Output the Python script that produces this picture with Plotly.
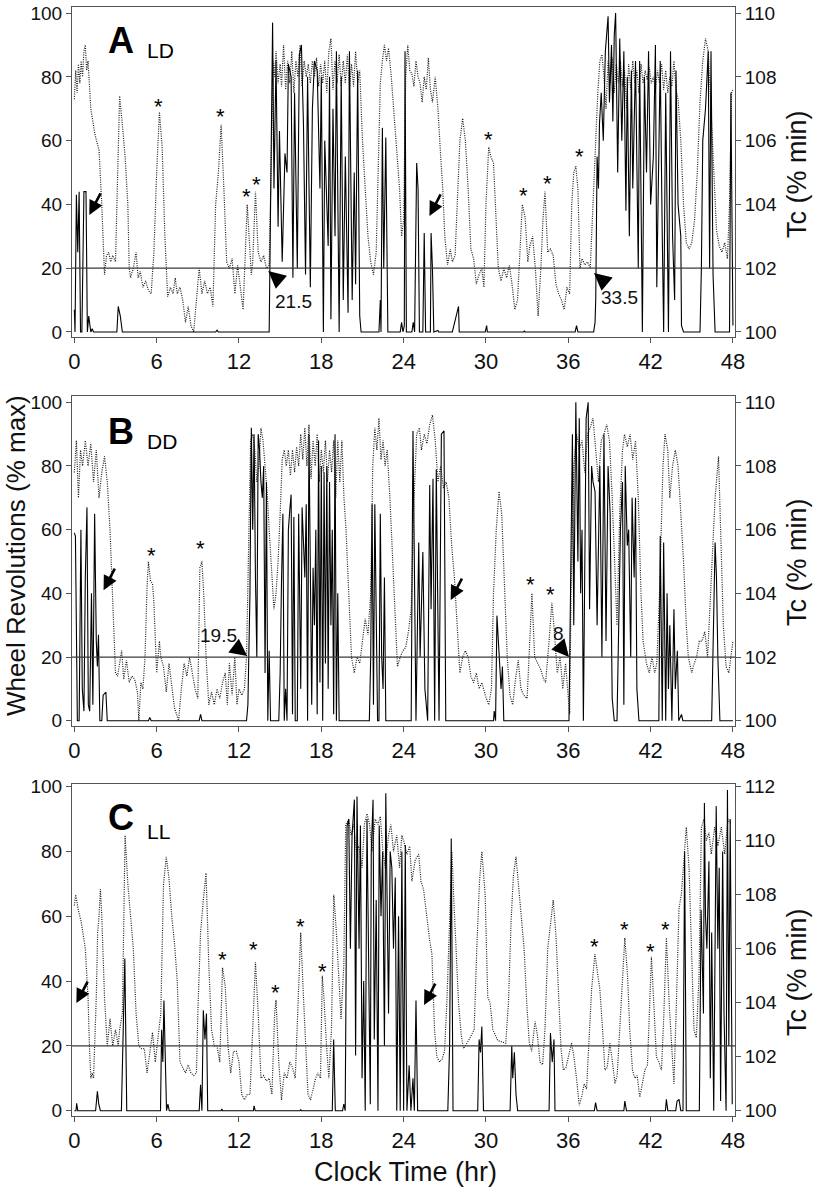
import plotly.graph_objects as go

# ---------------- DATA (hours, value) ----------------
# Panel A (LD) wheel revolutions, % of max
A_WHEEL = [
    (0.0, 7), (0.05, 0), (0.15, 43), (0.25, 25), (0.35, 44), (0.45, 0), (0.55, 0), (0.7, 44), (0.85, 44),
    (0.95, 0), (1.05, 5), (1.2, 0), (1.3, 1), (1.4, 0), (3.1, 0), (3.2, 8), (3.35, 5), (3.5, 0),
    (10.3, 0), (10.4, 0.6), (10.5, 0), (14.2, 0), (14.45, 97), (14.55, 45), (14.7, 85), (14.85, 33),
    (14.95, 63), (15.15, 22), (15.35, 56), (15.5, 50), (15.6, 84), (15.8, 80), (15.93, 17), (16.05, 75),
    (16.25, 20), (16.4, 87), (16.55, 90), (16.7, 65), (16.85, 18), (17.0, 80), (17.2, 14), (17.35, 70),
    (17.5, 85), (17.7, 82), (17.9, 45), (18.0, 80), (18.15, 0), (18.25, 60), (18.5, 27), (18.6, 80),
    (18.7, 4), (18.85, 70), (19.0, 30), (19.1, 88), (19.3, 0), (19.45, 80), (19.6, 10), (19.75, 55),
    (19.95, 6), (20.05, 88), (20.25, 10), (20.4, 50), (20.5, 15), (20.65, 82), (20.8, 5), (20.9, 0),
    (22.2, 0), (22.3, 10), (22.35, 0), (22.45, 64), (22.55, 20), (22.7, 61), (22.85, 0), (23.75, 0),
    (23.85, 3), (23.95, 0), (24.05, 2), (24.1, 88), (24.2, 0), (24.6, 0), (24.7, 3), (24.8, 0),
    (24.95, 53), (25.05, 45), (25.15, 0), (25.4, 0), (25.5, 31), (25.6, 0), (25.95, 0), (26.0, 31),
    (26.1, 20), (26.2, 0), (26.5, 0.5), (26.55, 0), (27.55, 0), (27.7, 3), (27.9, 6), (28.0, 8),
    (28.05, 0), (29.95, 0), (30.05, 2), (30.1, 0), (32.75, 0), (32.8, 0.4), (32.85, 0), (36.5, 0),
    (36.6, 2), (36.7, 0), (37.85, 0), (37.95, 3), (38.0, 10), (38.1, 55), (38.2, 45), (38.27, 65),
    (38.4, 75), (38.55, 60), (38.7, 88), (38.9, 99), (39.0, 72), (39.15, 90), (39.25, 66), (39.35, 93),
    (39.45, 100), (39.6, 50), (39.75, 92), (39.9, 60), (40.05, 88), (40.2, 38), (40.3, 80), (40.45, 30),
    (40.6, 82), (40.7, 45), (40.9, 85), (41.1, 20), (41.2, 85), (41.4, 0), (41.55, 80), (41.7, 50),
    (41.85, 88), (42.0, 40), (42.2, 55), (42.35, 90), (42.45, 14), (42.55, 50), (42.7, 85), (42.85, 30),
    (42.95, 0), (43.1, 75), (43.3, 0), (43.45, 88), (43.6, 30), (43.75, 10), (43.85, 82), (44.0, 40),
    (44.2, 30), (44.25, 2), (44.4, 0), (45.6, 0), (45.7, 20), (45.8, 60), (46.0, 70), (46.2, 88),
    (46.3, 20), (46.4, 88), (46.55, 18), (46.7, 0), (47.75, 0), (47.85, 75), (48.0, 2),
]

# Panel A (LD) core body temperature, Tc (% of min)
A_TC = [
    (0.0, 107.3), (0.1, 108.2), (0.2, 107.5), (0.3, 108.4), (0.4, 107.8), (0.5, 108.5), (0.6, 108.0),
    (0.7, 108.8), (0.8, 109.0), (0.9, 108.2), (1.0, 108.5), (1.2, 107.0), (1.5, 106.2), (1.8, 105.7),
    (2.0, 104.0), (2.1, 102.5), (2.2, 101.8), (2.35, 102.4), (2.5, 102.5), (2.65, 102.2), (2.8, 102.4),
    (3.0, 102.2), (3.15, 104.5), (3.3, 107.4), (3.5, 106.5), (3.7, 105.5), (3.9, 104.0), (4.0, 102.0),
    (4.1, 101.7), (4.3, 102.0), (4.5, 102.5), (4.65, 101.7), (4.8, 101.9), (5.0, 101.4), (5.2, 101.6),
    (5.4, 101.3), (5.6, 101.2), (5.8, 102.5), (6.0, 105.0), (6.2, 106.9), (6.4, 105.8), (6.6, 103.0),
    (6.8, 101.1), (7.0, 101.4), (7.2, 101.2), (7.35, 101.7), (7.5, 101.2), (7.7, 101.4), (7.9, 101.0),
    (8.1, 100.3), (8.3, 100.8), (8.5, 100.2), (8.7, 100.0), (8.9, 101.0), (9.1, 102.0), (9.3, 101.2),
    (9.5, 101.6), (9.7, 101.2), (9.9, 101.4), (10.1, 100.8), (10.3, 104.0), (10.5, 105.0), (10.7, 106.5),
    (10.9, 104.5), (11.1, 102.2), (11.3, 102.0), (11.5, 102.3), (11.7, 101.2), (11.9, 102.1),
    (12.1, 101.4), (12.3, 100.7), (12.6, 104.0), (12.9, 101.8), (13.0, 102.2), (13.2, 104.4),
    (13.4, 102.5), (13.6, 102.2), (13.8, 102.4), (14.0, 102.0), (14.2, 102.1), (14.35, 105.0),
    (14.5, 108.5), (14.6, 108.0), (14.7, 108.8), (14.85, 107.8), (15.0, 108.4), (15.1, 107.7),
    (15.25, 109.0), (15.4, 107.6), (15.55, 108.5), (15.7, 107.8), (15.85, 108.8), (16.0, 107.5),
    (16.15, 108.5), (16.3, 108.0), (16.45, 109.0), (16.6, 107.7), (16.75, 108.5), (16.9, 108.0),
    (17.05, 108.4), (17.2, 107.8), (17.35, 108.5), (17.5, 108.0), (17.65, 108.6), (17.8, 107.7),
    (17.95, 108.4), (18.1, 107.8), (18.25, 108.5), (18.4, 107.5), (18.55, 108.8), (18.7, 109.2),
    (18.85, 107.6), (19.0, 108.5), (19.15, 107.8), (19.3, 108.7), (19.45, 107.7), (19.6, 108.5),
    (19.75, 107.8), (19.9, 108.7), (20.05, 107.6), (20.2, 108.4), (20.35, 107.7), (20.5, 108.8),
    (20.65, 107.8), (20.8, 108.2), (21.0, 106.0), (21.2, 104.5), (21.4, 103.0), (21.6, 102.2),
    (21.8, 101.8), (22.0, 102.5), (22.15, 105.0), (22.3, 107.8), (22.45, 108.5), (22.6, 109.0),
    (22.75, 108.5), (22.9, 108.9), (23.1, 108.0), (23.3, 106.8), (23.5, 105.5), (23.7, 104.5),
    (23.85, 103.0), (24.0, 103.5), (24.15, 108.0), (24.3, 109.0), (24.45, 108.2), (24.6, 108.1),
    (24.75, 107.7), (24.9, 108.5), (25.05, 108.0), (25.2, 107.8), (25.35, 107.2), (25.5, 108.0),
    (25.65, 107.6), (25.8, 108.6), (25.95, 107.6), (26.1, 107.2), (26.3, 108.0), (26.5, 107.0),
    (26.7, 105.5), (26.85, 104.5), (27.0, 103.0), (27.2, 102.1), (27.4, 102.6), (27.55, 102.2),
    (27.75, 102.4), (27.9, 104.0), (28.1, 106.0), (28.3, 106.7), (28.5, 106.0), (28.7, 104.5),
    (28.9, 102.6), (29.1, 102.3), (29.3, 101.5), (29.5, 101.8), (29.7, 102.0), (29.85, 101.4),
    (30.0, 104.0), (30.2, 105.8), (30.35, 105.5), (30.55, 105.3), (30.75, 103.5), (30.9, 102.0),
    (31.1, 101.6), (31.3, 102.0), (31.5, 101.7), (31.7, 102.1), (31.9, 101.5), (32.1, 100.7),
    (32.3, 101.0), (32.5, 102.5), (32.65, 104.0), (32.85, 103.6), (33.05, 102.2), (33.2, 102.7),
    (33.4, 103.0), (33.6, 102.0), (33.8, 100.5), (34.0, 102.0), (34.15, 103.5), (34.3, 104.4),
    (34.5, 102.5), (34.7, 102.6), (34.9, 102.4), (35.1, 101.5), (35.3, 101.2), (35.5, 101.0),
    (35.7, 100.7), (35.9, 101.4), (36.1, 101.2), (36.25, 104.0), (36.4, 105.0), (36.55, 105.2),
    (36.7, 104.5), (36.85, 102.0), (37.0, 102.3), (37.2, 102.1), (37.4, 102.2), (37.6, 102.0),
    (37.8, 104.0), (38.0, 106.2), (38.15, 107.5), (38.3, 108.5), (38.45, 108.7), (38.6, 108.0),
    (38.75, 107.0), (38.9, 108.5), (39.05, 107.8), (39.2, 108.6), (39.35, 107.5), (39.5, 108.4),
    (39.65, 107.8), (39.8, 108.5), (39.95, 107.7), (40.1, 108.2), (40.25, 107.0), (40.4, 108.4),
    (40.55, 107.6), (40.7, 108.5), (40.85, 107.8), (41.0, 108.2), (41.15, 107.5), (41.3, 108.4),
    (41.45, 107.8), (41.6, 108.2), (41.75, 107.9), (41.9, 108.3), (42.05, 107.8), (42.2, 108.0),
    (42.35, 107.6), (42.5, 108.2), (42.65, 107.8), (42.8, 108.4), (42.95, 107.6), (43.1, 108.2),
    (43.25, 107.5), (43.4, 108.0), (43.55, 107.7), (43.7, 108.5), (43.85, 107.6), (44.0, 107.3),
    (44.2, 106.0), (44.4, 104.0), (44.6, 102.8), (44.8, 102.6), (45.0, 102.8), (45.2, 103.5),
    (45.4, 105.0), (45.6, 107.2), (45.8, 108.5), (46.0, 109.2), (46.2, 108.8), (46.4, 107.0),
    (46.6, 105.0), (46.8, 103.2), (47.0, 102.7), (47.2, 102.5), (47.4, 102.8), (47.6, 102.3),
    (47.75, 104.0), (47.9, 107.5), (48.0, 107.6),
]

# Panel B (DD) wheel revolutions, % of max
B_WHEEL = [
    (0.0, 59), (0.08, 58), (0.22, 0), (0.35, 0), (0.48, 60), (0.58, 10), (0.7, 3), (0.8, 45), (0.92, 67),
    (1.02, 5), (1.12, 3), (1.25, 40), (1.35, 5), (1.48, 65), (1.6, 25), (1.68, 17), (1.76, 27),
    (1.86, 0), (2.0, 0), (2.1, 8), (2.3, 9), (2.4, 0), (5.4, 0), (5.5, 1), (5.6, 0), (9.1, 0),
    (9.2, 2), (9.3, 0), (12.55, 0), (12.65, 5), (12.8, 40), (12.9, 92), (13.0, 60), (13.1, 90),
    (13.2, 45), (13.3, 20), (13.4, 90), (13.5, 85), (13.6, 75), (13.7, 70), (13.8, 80), (13.9, 15),
    (14.0, 75), (14.1, 0), (14.2, 22), (14.3, 0), (14.9, 0), (15.0, 15), (15.1, 44), (15.2, 65),
    (15.3, 0), (15.4, 10), (15.5, 0), (15.6, 60), (15.7, 66), (15.8, 71), (15.9, 2), (16.0, 64),
    (16.1, 0), (16.25, 0), (16.35, 65), (16.5, 10), (16.6, 67), (16.7, 57), (16.8, 45), (16.9, 68),
    (17.0, 0), (17.1, 90), (17.2, 45), (17.3, 5), (17.4, 48), (17.5, 30), (17.6, 60), (17.7, 2),
    (17.8, 88), (17.9, 12), (18.0, 80), (18.1, 0), (18.2, 78), (18.3, 18), (18.4, 80), (18.5, 10),
    (18.6, 75), (18.7, 30), (18.8, 60), (18.9, 2), (19.0, 90), (19.1, 0), (19.2, 40), (19.3, 0),
    (21.5, 0), (21.6, 20), (21.7, 68), (21.8, 5), (21.9, 68), (22.0, 30), (22.1, 0), (22.2, 0),
    (22.3, 65), (22.4, 20), (22.5, 10), (22.6, 45), (22.7, 0), (24.55, 0), (24.68, 91), (24.9, 0),
    (25.1, 56), (25.2, 20), (25.4, 53), (25.55, 10), (25.75, 0), (25.9, 74), (26.0, 35), (26.14, 76),
    (26.26, 0), (26.38, 79), (26.58, 0), (26.75, 90), (26.94, 91), (27.07, 0), (30.55, 0), (30.6, 3),
    (30.7, 0), (30.8, 33), (30.95, 20), (31.1, 10), (31.2, 17), (31.3, 0), (36.05, 0), (36.2, 50),
    (36.3, 90), (36.4, 30), (36.55, 100), (36.7, 50), (36.8, 95), (36.9, 40), (37.0, 60), (37.1, 0),
    (37.3, 95), (37.45, 100), (37.55, 35), (37.7, 80), (37.8, 75), (37.95, 72), (38.1, 30), (38.3, 80),
    (38.45, 20), (38.6, 90), (38.75, 25), (38.9, 80), (39.05, 65), (39.2, 7), (39.35, 0), (39.55, 0),
    (39.7, 40), (39.8, 60), (39.95, 75), (40.05, 5), (40.15, 80), (40.3, 55), (40.4, 60), (40.55, 20),
    (40.65, 70), (40.8, 45), (40.9, 70), (41.0, 10), (41.15, 0), (42.6, 0), (42.7, 58), (42.85, 0),
    (42.95, 56), (43.1, 0), (43.2, 40), (43.3, 10), (43.4, 30), (43.55, 0), (43.7, 35), (43.8, 10),
    (43.95, 22), (44.05, 0), (44.25, 2), (44.35, 0), (46.45, 0), (46.55, 20), (46.7, 56), (46.8, 45),
    (46.9, 20), (47.05, 0), (48.0, 0),
]

# Panel B (DD) Tc (% of min)
B_TC = [
    (0.0, 107.8), (0.15, 108.8), (0.3, 107.0), (0.45, 108.5), (0.6, 108.0), (0.8, 108.8), (1.0, 108.0),
    (1.2, 108.7), (1.4, 107.5), (1.6, 108.5), (1.8, 107.0), (2.0, 107.8), (2.2, 108.3), (2.4, 107.5),
    (2.6, 106.0), (2.8, 104.0), (2.9, 102.5), (3.0, 101.5), (3.15, 101.4), (3.3, 101.8), (3.45, 102.2),
    (3.6, 101.3), (3.8, 101.9), (4.0, 101.2), (4.2, 101.4), (4.4, 101.3), (4.6, 100.9), (4.7, 100.0),
    (4.85, 101.2), (5.0, 101.0), (5.15, 102.0), (5.3, 104.2), (5.4, 105.0), (5.55, 104.4), (5.7, 104.3),
    (5.8, 103.7), (6.0, 101.5), (6.2, 102.5), (6.3, 102.0), (6.5, 101.7), (6.7, 100.9), (6.9, 101.8),
    (7.1, 101.0), (7.3, 100.4), (7.45, 100.2), (7.6, 100.0), (7.8, 101.0), (8.0, 101.8), (8.2, 101.4),
    (8.4, 102.0), (8.6, 101.5), (8.8, 101.0), (9.0, 100.7), (9.15, 104.8), (9.3, 105.0), (9.45, 103.8),
    (9.6, 102.0), (9.8, 100.5), (10.0, 100.9), (10.2, 100.5), (10.4, 101.0), (10.6, 100.7),
    (10.8, 101.2), (11.0, 101.5), (11.15, 100.5), (11.3, 101.8), (11.5, 100.8), (11.7, 102.0),
    (11.85, 100.5), (12.0, 101.0), (12.2, 100.8), (12.4, 101.0), (12.55, 102.0), (12.7, 106.0),
    (12.85, 108.8), (13.0, 109.0), (13.15, 108.5), (13.3, 107.5), (13.45, 108.0), (13.6, 109.2),
    (13.75, 108.8), (13.9, 108.0), (14.05, 107.2), (14.2, 106.0), (14.4, 104.5), (14.55, 103.5),
    (14.7, 104.0), (14.85, 105.0), (15.0, 106.5), (15.15, 108.2), (15.3, 108.5), (15.45, 108.0),
    (15.6, 108.5), (15.75, 107.7), (15.9, 108.5), (16.05, 107.8), (16.2, 108.6), (16.35, 108.0),
    (16.5, 109.0), (16.65, 108.2), (16.8, 109.2), (16.95, 108.0), (17.1, 109.3), (17.25, 107.6),
    (17.4, 108.8), (17.55, 108.0), (17.7, 109.0), (17.85, 107.5), (18.0, 108.5), (18.15, 107.8),
    (18.3, 108.8), (18.45, 107.5), (18.6, 108.5), (18.75, 107.8), (18.9, 108.8), (19.05, 107.0),
    (19.2, 108.8), (19.35, 107.5), (19.5, 108.8), (19.65, 107.0), (19.8, 106.0), (20.0, 104.0),
    (20.2, 102.0), (20.4, 101.5), (20.6, 102.0), (20.8, 101.8), (21.0, 102.5), (21.2, 103.2),
    (21.4, 102.7), (21.6, 104.0), (21.75, 108.0), (21.9, 109.2), (22.05, 108.5), (22.2, 109.5),
    (22.35, 108.2), (22.5, 108.8), (22.65, 108.0), (22.8, 108.5), (23.0, 107.0), (23.2, 105.0),
    (23.4, 103.0), (23.55, 101.7), (23.75, 102.0), (23.95, 102.2), (24.15, 102.3), (24.35, 102.8),
    (24.55, 103.5), (24.75, 106.9), (24.95, 109.0), (25.15, 109.2), (25.3, 108.5), (25.5, 109.0),
    (25.7, 108.7), (25.9, 109.3), (26.1, 109.6), (26.3, 108.8), (26.5, 107.5), (26.7, 108.0),
    (26.9, 107.3), (27.1, 107.5), (27.3, 107.0), (27.5, 105.5), (27.7, 104.5), (27.9, 102.8),
    (28.1, 101.5), (28.3, 102.0), (28.5, 102.2), (28.7, 102.0), (28.9, 101.4), (29.1, 101.2),
    (29.3, 101.5), (29.5, 101.0), (29.7, 101.2), (29.95, 100.8), (30.2, 100.5), (30.4, 101.0),
    (30.55, 104.0), (30.75, 106.0), (30.95, 107.2), (31.15, 106.5), (31.35, 104.5), (31.55, 102.0),
    (31.75, 100.8), (31.95, 100.5), (32.15, 101.3), (32.35, 101.9), (32.55, 101.0), (32.75, 100.8),
    (33.0, 100.7), (33.15, 102.2), (33.35, 104.0), (33.55, 102.0), (33.75, 101.8), (34.0, 101.6),
    (34.2, 101.3), (34.35, 101.2), (34.6, 102.5), (34.8, 103.7), (34.95, 103.0), (35.2, 101.5),
    (35.4, 102.0), (35.6, 101.0), (35.8, 101.8), (36.0, 100.5), (36.1, 100.2), (36.2, 104.0),
    (36.4, 108.0), (36.6, 109.0), (36.8, 108.5), (37.0, 108.8), (37.2, 107.8), (37.4, 109.0),
    (37.6, 109.2), (37.8, 109.5), (38.0, 108.5), (38.2, 107.5), (38.4, 108.8), (38.6, 109.0),
    (38.8, 109.3), (39.0, 108.8), (39.2, 107.0), (39.4, 104.5), (39.55, 103.0), (39.75, 106.5),
    (39.95, 108.5), (40.1, 109.0), (40.3, 108.6), (40.5, 109.0), (40.7, 108.2), (40.9, 108.8),
    (41.1, 107.0), (41.3, 104.0), (41.45, 102.5), (41.7, 101.8), (41.9, 101.5), (42.1, 102.0),
    (42.3, 101.5), (42.45, 101.8), (42.65, 104.0), (42.9, 108.0), (43.05, 109.0), (43.25, 108.5),
    (43.4, 107.0), (43.6, 108.0), (43.8, 108.5), (44.0, 108.0), (44.15, 107.0), (44.4, 105.0),
    (44.6, 103.0), (44.75, 102.0), (45.0, 101.5), (45.1, 101.7), (45.35, 102.0), (45.55, 102.5),
    (45.75, 102.5), (45.95, 102.8), (46.15, 102.0), (46.35, 104.0), (46.55, 106.0), (46.7, 107.0),
    (46.95, 108.3), (47.1, 106.0), (47.3, 103.0), (47.5, 101.7), (47.7, 101.5), (48.0, 102.5),
]

# Panel C (LL) wheel revolutions, % of max
C_WHEEL = [
    (0.0, 0), (0.12, 0), (0.17, 2.3), (0.25, 0), (1.55, 0), (1.68, 6), (1.78, 2), (1.9, 0), (3.43, 0),
    (3.55, 20), (3.68, 47), (3.82, 0), (6.28, 0), (6.36, 25), (6.45, 15), (6.53, 34), (6.62, 12),
    (6.72, 0), (6.82, 2), (6.92, 0), (9.1, 0), (9.2, 8), (9.3, 0), (9.4, 31), (9.52, 22), (9.63, 30),
    (9.72, 0), (10.7, 0), (10.75, 0.5), (10.8, 0), (13.05, 0), (13.1, 1.5), (13.18, 0), (16.45, 0),
    (16.5, 0.4), (16.55, 0), (18.8, 0), (18.9, 22), (19.02, 0), (19.55, 0), (19.64, 2), (19.74, 0),
    (19.88, 88), (20.0, 90), (20.12, 50), (20.24, 85), (20.41, 96), (20.5, 17), (20.6, 97), (20.75, 50),
    (20.85, 88), (20.97, 10), (21.09, 40), (21.2, 0), (21.33, 90), (21.45, 35), (21.57, 2), (21.64, 80),
    (21.77, 96), (21.86, 22), (22.0, 65), (22.13, 0), (22.22, 88), (22.35, 60), (22.47, 80), (22.6, 20),
    (22.7, 98), (22.78, 70), (22.9, 30), (23.02, 80), (23.14, 75), (23.26, 50), (23.39, 72), (23.5, 0),
    (23.63, 60), (23.75, 0), (23.87, 80), (24.0, 0), (24.12, 82), (24.24, 0), (24.4, 14), (24.53, 0),
    (24.68, 10), (24.78, 0), (24.9, 34), (25.02, 0), (27.22, 0), (27.35, 20), (27.47, 84), (27.6, 0),
    (29.4, 0), (29.5, 22), (29.6, 18), (29.7, 26), (29.82, 0), (31.76, 0), (31.88, 20), (31.95, 10),
    (32.07, 18), (32.19, 5), (32.31, 0), (34.6, 0), (34.7, 24), (34.83, 15), (34.96, 22), (35.03, 0),
    (37.9, 0), (37.99, 2.5), (38.1, 0), (40.05, 0), (40.12, 3), (40.24, 0), (43.08, 0), (43.15, 3.5),
    (43.25, 0), (43.83, 0), (43.93, 3), (44.07, 3.5), (44.2, 0), (44.36, 0), (44.48, 80), (44.6, 0),
    (45.55, 0), (45.68, 62), (45.85, 30), (45.92, 95), (46.0, 60), (46.1, 50), (46.25, 77), (46.35, 10),
    (46.45, 55), (46.6, 0), (46.7, 50), (46.78, 94), (46.9, 50), (47.0, 75), (47.1, 3), (47.25, 80),
    (47.35, 30), (47.5, 0), (47.6, 99), (47.7, 20), (47.8, 90), (47.95, 2),
]

# Panel C (LL) Tc (% of min)
C_TC = [
    (0.0, 107.6), (0.1, 108.0), (0.3, 107.4), (0.5, 107.0), (0.8, 106.0), (1.0, 104.2), (1.1, 102.4),
    (1.2, 101.2), (1.3, 101.4), (1.4, 101.2), (1.6, 104.2), (1.7, 106.6), (1.8, 107.2), (1.9, 108.2),
    (2.0, 107.2), (2.2, 104.2), (2.4, 102.4), (2.6, 103.4), (2.8, 102.4), (3.0, 103.0), (3.2, 102.4),
    (3.3, 103.0), (3.5, 103.6), (3.6, 107.2), (3.7, 110.2), (3.9, 108.4), (4.1, 107.2), (4.3, 106.0),
    (4.5, 103.6), (4.7, 102.4), (4.9, 102.3), (5.1, 102.3), (5.3, 101.4), (5.5, 102.2), (5.7, 102.9),
    (5.9, 101.8), (6.1, 102.6), (6.3, 103.6), (6.5, 108.4), (6.7, 109.4), (6.9, 108.6), (7.1, 107.2),
    (7.3, 106.2), (7.5, 104.8), (7.7, 101.8), (7.9, 101.6), (8.1, 101.4), (8.3, 101.7), (8.5, 101.4),
    (8.7, 101.3), (8.9, 101.4), (9.0, 103.6), (9.2, 106.6), (9.4, 107.8), (9.6, 108.8), (9.8, 105.4),
    (10.0, 103.0), (10.2, 102.4), (10.4, 102.4), (10.6, 101.8), (10.8, 105.3), (11.0, 104.6),
    (11.2, 102.4), (11.4, 101.4), (11.6, 102.2), (11.8, 102.2), (12.0, 101.8), (12.2, 100.6),
    (12.4, 100.4), (12.6, 100.6), (12.8, 100.6), (13.0, 103.0), (13.2, 105.5), (13.4, 103.6),
    (13.6, 101.2), (13.8, 101.3), (14.0, 101.1), (14.2, 101.2), (14.4, 100.6), (14.6, 103.6),
    (14.7, 104.1), (14.9, 101.8), (15.1, 100.4), (15.3, 101.4), (15.5, 101.2), (15.7, 101.8),
    (15.9, 101.6), (16.1, 101.2), (16.3, 103.6), (16.5, 106.6), (16.7, 104.2), (16.9, 101.8),
    (17.03, 100.6), (17.22, 100.4), (17.41, 100.8), (17.58, 101.2), (17.75, 101.4), (17.94, 101.2),
    (18.07, 105.0), (18.19, 104.2), (18.38, 102.4), (18.55, 101.2), (18.74, 103.0), (18.91, 108.0),
    (19.1, 106.6), (19.27, 104.8), (19.44, 103.4), (19.64, 105.4), (19.78, 110.6), (20.0, 110.8),
    (20.17, 110.2), (20.36, 110.6), (20.56, 109.6), (20.73, 109.8), (20.97, 109.0), (21.14, 110.6),
    (21.33, 111.0), (21.52, 110.6), (21.69, 109.6), (21.93, 110.8), (22.13, 110.6), (22.3, 110.9),
    (22.49, 109.6), (22.66, 109.0), (22.9, 110.2), (23.07, 110.6), (23.26, 109.6), (23.5, 110.2),
    (23.7, 109.0), (23.87, 110.2), (24.0, 110.0), (24.24, 109.5), (24.44, 109.8), (24.6, 108.5),
    (24.85, 109.3), (25.1, 109.5), (25.26, 108.5), (25.45, 108.2), (25.7, 107.0), (25.9, 106.3),
    (26.06, 105.8), (26.25, 103.0), (26.42, 102.0), (26.62, 101.8), (26.79, 101.9), (26.98, 102.2),
    (27.15, 104.0), (27.35, 107.0), (27.52, 109.6), (27.64, 108.0), (27.83, 106.0), (28.0, 104.0),
    (28.2, 102.8), (28.36, 102.3), (28.73, 102.6), (29.14, 103.0), (29.33, 106.0), (29.53, 108.5),
    (29.7, 109.6), (29.94, 108.0), (30.13, 104.2), (30.3, 104.0), (30.5, 103.0), (30.86, 102.6),
    (31.44, 102.5), (31.64, 104.0), (31.83, 107.0), (32.0, 108.7), (32.19, 109.4), (32.36, 108.5),
    (32.56, 107.2), (32.78, 106.0), (32.97, 104.0), (33.16, 102.5), (33.33, 102.2), (33.58, 103.3),
    (33.75, 102.8), (33.94, 101.8), (34.13, 101.7), (34.3, 103.0), (34.5, 106.0), (34.9, 107.8),
    (35.1, 106.5), (35.27, 104.5), (35.47, 102.3), (35.64, 101.5), (35.83, 101.6), (36.24, 102.5),
    (36.41, 102.0), (36.6, 101.2), (36.8, 100.2), (36.97, 100.5), (37.16, 101.0), (37.33, 100.8),
    (37.53, 103.0), (37.7, 104.5), (37.94, 105.8), (38.1, 105.2), (38.3, 104.5), (38.5, 103.0),
    (38.67, 101.5), (38.84, 101.6), (39.03, 102.5), (39.22, 101.8), (39.4, 101.0), (39.56, 101.3),
    (39.76, 103.0), (39.95, 105.0), (40.12, 106.4), (40.32, 105.0), (40.48, 103.0), (40.68, 101.5),
    (40.85, 101.2), (41.02, 101.3), (41.21, 100.5), (41.4, 101.0), (41.58, 101.5), (41.77, 101.7),
    (41.94, 104.0), (42.06, 105.7), (42.23, 104.0), (42.42, 102.0), (42.6, 101.8), (42.79, 101.5),
    (42.96, 103.5), (43.15, 106.4), (43.35, 104.0), (43.5, 102.5), (43.7, 101.0), (43.88, 104.0),
    (44.07, 107.5), (44.24, 108.0), (44.44, 109.5), (44.6, 110.5), (44.8, 109.0), (44.97, 106.0),
    (45.16, 103.0), (45.33, 102.7), (45.53, 105.0), (45.7, 110.5), (45.9, 110.8), (46.06, 110.0),
    (46.25, 110.3), (46.42, 109.5), (46.67, 110.5), (46.9, 109.8), (47.15, 110.5), (47.4, 109.5),
    (47.64, 110.8), (47.88, 110.6),
]

HOUR_TICKS = [0, 6, 12, 18, 24, 30, 36, 42, 48]
WHEEL_TICKS = [0, 20, 40, 60, 80, 100]
TC_TICKS_AB = [100, 102, 104, 106, 108, 110]
TC_TICKS_C = [100, 102, 104, 106, 108, 110, 112]
THRESHOLD = 20

# asterisks: (hour, wheel-scale height)
A_STARS = [(6.12, 70.8), (10.63, 67.7), (12.53, 42.6), (13.26, 46.4), (30.15, 60.2), (32.77, 42.9),
           (34.52, 46.7), (36.85, 54.9)]
B_STARS = [(5.61, 52.0), (9.18, 54.2), (33.21, 42.9), (34.67, 39.5)]
C_STARS = [(10.78, 46.8), (13.04, 49.6), (14.64, 36.6), (16.46, 57.0), (18.06, 43.1), (37.94, 50.8),
           (40.13, 55.8), (42.02, 49.0), (43.11, 55.8)]
# small arrows (head position)
A_ARROWS = [(1.09, 36.7), (25.88, 36.4)]
B_ARROWS = [(2.13, 41.0), (27.43, 37.9)]
C_ARROWS = [(0.15, 33.2), (25.49, 32.6)]
# onset markers: (tip hour, tip height, label, label hour, label height, tail dx, tail dy)
A_ONSETS = [(14.13, 19.1, "21.5", 15.95, 9.7, 13, 11), (37.87, 18.5, "33.5", 39.7, 10.7, 13, 11)]
B_ONSETS = [(12.6, 20.3, "19.5", 10.5, 26.9, -13, -10), (36.05, 20.0, "8", 35.25, 27.5, -11, -13)]
C_ONSETS = []

# ---------------- FIGURE ----------------
W, H = 819, 1190
X_LEFT, X_RIGHT = 72, 735
FONT = "Liberation Sans, Arial, sans-serif"
AXC = "#555555"

panels = [
    dict(letter="A", cond="LD", wheel=A_WHEEL, tc=A_TC, top=7, bottom=337, wr=(-1.57, 101.9),
         tcs=0.1, tct=TC_TICKS_AB, stars=A_STARS, arrows=A_ARROWS, onsets=A_ONSETS,
         lab_y=40.8, cond_y=50.8, tc_title_y=174),
    dict(letter="B", cond="DD", wheel=B_WHEEL, tc=B_TC, top=396, bottom=726, wr=(-1.66, 101.98),
         tcs=0.1, tct=TC_TICKS_AB, stars=B_STARS, arrows=B_ARROWS, onsets=B_ONSETS,
         lab_y=431, cond_y=441.5, tc_title_y=562),
    dict(letter="C", cond="LL", wheel=C_WHEEL, tc=C_TC, top=784, bottom=1116, wr=(-1.64, 100.83),
         tcs=0.12, tct=TC_TICKS_C, stars=C_STARS, arrows=C_ARROWS, onsets=C_ONSETS,
         lab_y=817, cond_y=831.5, tc_title_y=972),
]

fig = go.Figure()
layout = dict(width=W, height=H, margin=dict(l=0, r=0, t=0, b=0, pad=0, autoexpand=False),
              paper_bgcolor="white", plot_bgcolor="white", showlegend=False,
              font=dict(family=FONT, color="#111"))
annotations = []
shapes = []

def py(px):
    return 1 - px / H

for i, p in enumerate(panels):
    n = i + 1
    xr = "x" if n == 1 else f"x{n}"
    tcr = "y" if n == 1 else f"y{n}"
    wr = f"y{n + 3}"
    xname = "xaxis" if n == 1 else f"xaxis{n}"
    tcname = "yaxis" if n == 1 else f"yaxis{n}"
    wname = f"yaxis{n + 3}"

    th, tv = zip(*p["tc"])
    wh, wv = zip(*p["wheel"])
    fig.add_trace(go.Scatter(x=th, y=tv, mode="lines", xaxis=xr, yaxis=tcr, hoverinfo="skip",
                             line=dict(color="#1e1e1e", width=1.2, dash="1px,1.3px")))
    fig.add_trace(go.Scatter(x=wh, y=wv, mode="lines", xaxis=xr, yaxis=wr, hoverinfo="skip",
                             line=dict(color="black", width=1.1)))

    dom = [py(p["bottom"]), py(p["top"])]
    lo, hi = p["wr"]
    layout[xname] = dict(domain=[X_LEFT / W, X_RIGHT / W], range=[-0.17, 48.15], anchor=tcr,
                         tickvals=HOUR_TICKS, ticks="outside", ticklen=5, tickcolor=AXC,
                         showline=True, linecolor=AXC, linewidth=1, mirror=True, automargin=False,
                         showgrid=False, zeroline=False, tickfont=dict(size=22, color="#111"))
    layout[tcname] = dict(domain=dom, range=[100 + lo * p["tcs"], 100 + hi * p["tcs"]], side="right",
                          anchor=xr, tickvals=p["tct"], ticks="outside", ticklen=5, tickcolor=AXC,
                          showline=True, linecolor=AXC, linewidth=1, showgrid=False, zeroline=False,
                          automargin=False, tickfont=dict(size=19, color="#111"))
    layout[wname] = dict(overlaying=tcr, side="left", anchor=xr, range=[lo, hi], tickvals=WHEEL_TICKS,
                         ticks="outside", ticklen=5, tickcolor=AXC, showline=True, linecolor=AXC,
                         linewidth=1, showgrid=False, zeroline=False, automargin=False,
                         tickfont=dict(size=19, color="#111"))

    shapes.append(dict(type="line", xref=f"{xr} domain", x0=0, x1=1, yref=wr, y0=THRESHOLD,
                       y1=THRESHOLD, line=dict(color="#3a3a3a", width=1.2)))

    annotations.append(dict(xref="paper", yref="paper", x=106 / W, y=py(p["lab_y"]), xanchor="left",
                            yanchor="middle", text=f"<b>{p['letter']}</b>", showarrow=False,
                            font=dict(size=36, color="black")))
    annotations.append(dict(xref="paper", yref="paper", x=145 / W, y=py(p["cond_y"]), xanchor="left",
                            yanchor="middle", text=p["cond"], showarrow=False,
                            font=dict(size=21, color="black")))
    annotations.append(dict(xref="paper", yref="paper", x=797 / W, y=py(p["tc_title_y"]),
                            xanchor="center", yanchor="middle", text="Tc (% min)", textangle=-90,
                            showarrow=False, font=dict(size=27, color="#111")))
    for (sx, sy) in p["stars"]:
        annotations.append(dict(xref=xr, yref=wr, x=sx, y=sy, text="*", showarrow=False,
                                font=dict(size=22, color="black")))
    for (ax_, ay_) in p["arrows"]:
        annotations.append(dict(xref=xr, yref=wr, x=ax_, y=ay_, text="", showarrow=True,
                                arrowhead=2, arrowsize=1.1, arrowwidth=2.6, arrowcolor="black",
                                ax=12, ay=-23))
    for (tx, ty, lab, lx, ly, dx, dy) in p["onsets"]:
        annotations.append(dict(xref=xr, yref=wr, x=tx, y=ty, text="", showarrow=True,
                                arrowhead=2, arrowsize=2.3, arrowwidth=1.5, arrowcolor="black",
                                ax=dx, ay=dy))
        annotations.append(dict(xref=xr, yref=wr, x=lx, y=ly, text=lab, showarrow=False,
                                font=dict(size=19, color="#111")))

annotations.append(dict(xref="paper", yref="paper", x=0, y=py(556), xanchor="left",
                        yanchor="middle", text="Wheel Revolutions (% max)", textangle=-90,
                        showarrow=False, borderpad=0, font=dict(size=26, color="#111")))
annotations.append(dict(xref="paper", yref="paper", x=405 / W, y=py(1172), xanchor="center",
                        yanchor="middle", text="Clock Time (hr)", showarrow=False,
                        font=dict(size=27, color="#111")))

layout["annotations"] = annotations
layout["shapes"] = shapes
fig.update_layout(**layout)
fig.write_html("out.html", config={"displayModeBar": False},
               post_script="document.body.style.margin='0';document.body.style.padding='0';")
